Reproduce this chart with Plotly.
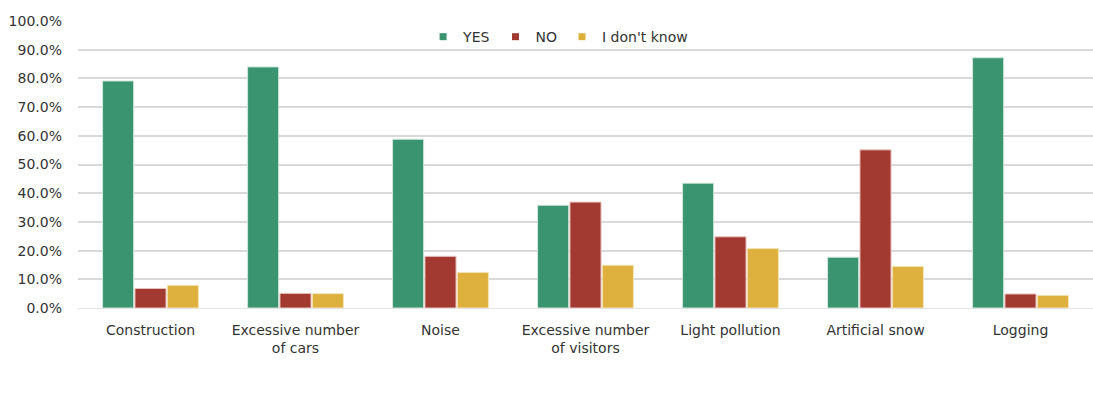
import plotly.graph_objects as go

categories = ["Construction", "Excessive number<br>of cars", "Noise", "Excessive number<br>of visitors",
              "Light pollution", "Artificial snow", "Logging"]
yes_vals = [79.1, 84.0, 58.8, 35.8, 43.5, 17.7, 87.2]
no_vals = [6.8, 5.1, 18.0, 36.9, 24.8, 55.1, 4.9]
idk_vals = [7.9, 5.0, 12.4, 14.9, 20.7, 14.5, 4.4]
series_names = ["YES", "NO", "I don't know"]
colors = ["#3B9470", "#A23A31", "#DEB13E"]
outline = ["#CFE6DA", "#E8C4C0", "#F4E3B8"]

fig = go.Figure()
for name, vals, c, oc in zip(series_names, [yes_vals, no_vals, idk_vals], colors, outline):
    fig.add_trace(go.Bar(x=categories, y=vals, name=name, marker=dict(color=c, line=dict(color=oc, width=1)),
                         showlegend=False))
for name, c in zip(series_names, colors):
    fig.add_trace(go.Scatter(x=[None], y=[None], mode="markers", name=name,
                             marker=dict(symbol="square", size=7, color=c)))

font_fam = "DejaVu Sans, Verdana, sans-serif"
txt = "#333333"
fig.update_layout(
    width=1093, height=394,
    margin=dict(l=78, r=0, t=21, b=86),
    paper_bgcolor="white", plot_bgcolor="white",
    barmode="group", bargap=0.33, bargroupgap=0.04,
    font=dict(family=font_fam, size=14, color=txt),
    legend=dict(orientation="h", x=0.473, xanchor="center", y=0.944, yanchor="middle",
                bgcolor="rgba(255,255,255,0)", font=dict(size=14, color=txt),
                itemwidth=30, tracegroupgap=0),
    xaxis=dict(showgrid=False, showline=True, linecolor="#E3E3E3", linewidth=1, ticks="",
               tickfont=dict(size=14, color=txt), ticklabelstandoff=9),
    yaxis=dict(range=[0, 100], dtick=10, tickformat=".1f", ticksuffix="%", showgrid=True,
               gridcolor="#D9D9D9", gridwidth=1.5, zeroline=False, showline=False,
               tickfont=dict(size=14, color=txt), ticklabelstandoff=15),
)
fig.write_html("out.html")
